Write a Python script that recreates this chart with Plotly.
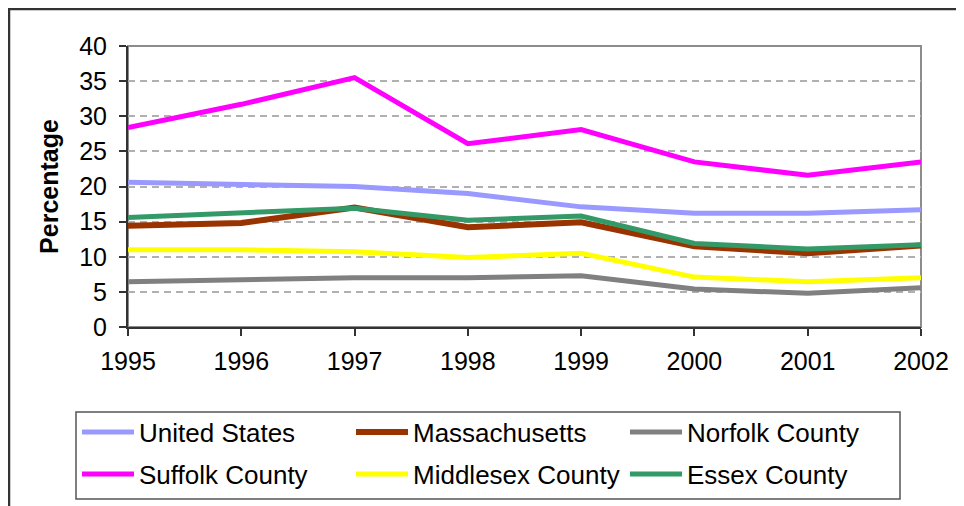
import plotly.graph_objects as go

years = [1995, 1996, 1997, 1998, 1999, 2000, 2001, 2002]
united_states = [20.6, 20.3, 20.0, 19.0, 17.1, 16.2, 16.2, 16.7]
massachusetts = [14.4, 14.8, 17.0, 14.2, 14.9, 11.5, 10.5, 11.6]
norfolk = [6.45, 6.8, 7.0, 7.0, 7.3, 5.4, 4.8, 5.6]
suffolk = [28.4, 31.7, 35.5, 26.1, 28.1, 23.5, 21.6, 23.5]
middlesex = [11.0, 11.0, 10.7, 9.9, 10.5, 7.1, 6.45, 7.0]
essex = [15.6, 16.2, 16.9, 15.2, 15.8, 11.9, 11.1, 11.7]

series = [
    ("United States", united_states, "#9999ff", 5),
    ("Massachusetts", massachusetts, "#993300", 6),
    ("Norfolk County", norfolk, "#808080", 5),
    ("Suffolk County", suffolk, "#ff00ff", 5),
    ("Middlesex County", middlesex, "#ffff00", 5),
    ("Essex County", essex, "#339966", 5),
]

FONT = "Liberation Sans, Arial, sans-serif"

# the page adds an 8px body margin, so the figure is 8px smaller
W, H = 956, 498
L, R, T, B = 120, 43, 38, 179
pw, ph = W - L - R, H - T - B

def px(xp):
    return (xp - L) / pw

def py(yp):
    return (H - B - yp) / ph

# legend entry positions (left edge, row centre) in figure pixels
col_x = [69, 343, 617]
row_y = [424, 466]

fig = go.Figure()
legends = {}
for i, (name, vals, color, w) in enumerate(series):
    key = "legend" if i == 0 else f"legend{i + 1}"
    fig.add_trace(go.Scatter(x=years, y=vals, name=name, mode="lines",
                             line=dict(color=color, width=w), legend=key))
    legends[key] = dict(
        x=px(col_x[i % 3]), y=py(row_y[i // 3]),
        xanchor="left", yanchor="middle", orientation="v",
        bgcolor="rgba(0,0,0,0)", borderwidth=0,
        font=dict(family=FONT, size=26, color="#000000"),
        itemwidth=52,
    )

fig.update_layout(
    width=W, height=H,
    margin=dict(l=L, r=R, t=T, b=B, autoexpand=False),
    paper_bgcolor="#e9e9e9",
    plot_bgcolor="#ffffff",
    font=dict(family=FONT, size=25, color="#000000"),
    showlegend=True,
    xaxis=dict(range=[1995, 2002], tickmode="array", tickvals=years,
               ticktext=[str(y) for y in years], automargin=False,
               showline=True, linecolor="#333333", linewidth=2,
               ticks="outside", ticklen=7, tickcolor="#333333", tickwidth=1.5,
               showgrid=False, zeroline=False, ticklabelstandoff=4,
               tickfont=dict(size=25)),
    yaxis=dict(range=[0, 40], tickvals=[0, 5, 10, 15, 20, 25, 30, 35, 40],
               automargin=False,
               showline=True, linecolor="#333333", linewidth=2,
               ticks="outside", ticklen=7, tickcolor="#333333", tickwidth=1.5,
               showgrid=True, gridcolor="#b0b0b0", gridwidth=1.5,
               griddash="7px,5px", zeroline=False, ticklabelstandoff=7,
               tickfont=dict(size=25),
               title=dict(text="<b>Percentage</b>", standoff=13,
                          font=dict(size=25))),
    shapes=[
        dict(type="rect", xref="paper", yref="paper", layer="below",
             x0=px(1), x1=1.3, y0=-0.9, y1=py(1),
             fillcolor="#ffffff", line=dict(color="#333333", width=2.5)),
        dict(type="rect", xref="paper", yref="paper", layer="below",
             x0=0, x1=1, y0=0, y1=1,
             line=dict(color="#8c8c8c", width=2)),
        dict(type="rect", xref="paper", yref="paper", layer="below",
             x0=px(68), x1=px(892), y0=py(491), y1=py(404),
             line=dict(color="#555555", width=1.5)),
    ],
    **legends,
)

fig.write_html("out.html")
